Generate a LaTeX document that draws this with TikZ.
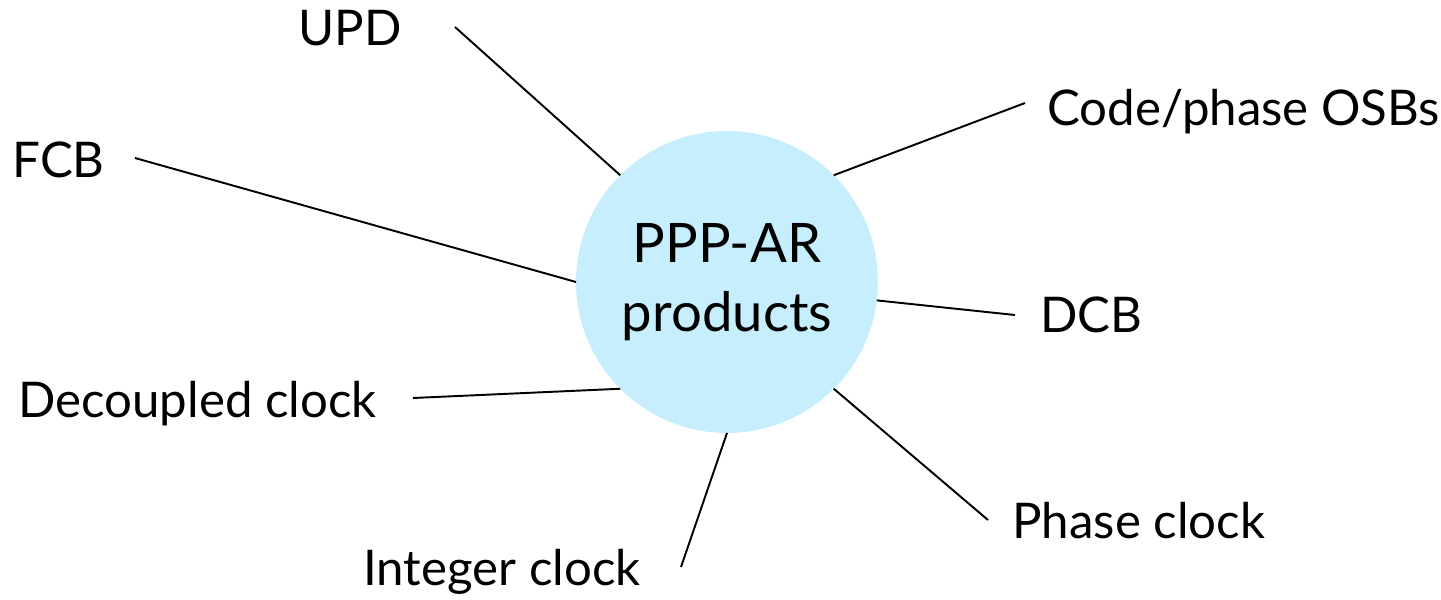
\documentclass[tikz,border=0pt]{standalone}
\usepackage{fontspec}
\setmainfont{Lato}
\usepackage{xcolor}
\usepackage{tikz}
\tikzset{%
  spoke/.style={line width=1.1pt},
  hub/.style={circle,fill=hubblue,minimum size=6.04cm,inner sep=0pt,outer sep=0pt,align=center,font=\fontsize{31}{39.5}\selectfont},
  item/.style={inner sep=0pt,font=\fontsize{28}{32}\selectfont},
}
\definecolor{hubblue}{HTML}{C6EEFC}

\begin{document}
\begin{tikzpicture}[x=0.02cm,y=-0.02cm]
      \useasboundingbox (0,0) rectangle (1441,599);
      \node[hub] (ppp) at (727,282) {PPP-AR\\products};

      \node[item,anchor=base east] (upd) at (402,45) {UPD};
      \node[item,anchor=base east] (fcb) at (105,177) {FCB};
      \node[item,anchor=base west] (osb) at (1047,125) {Code/phase OSBs};
      \node[item,anchor=base west] (dcb) at (1040,332) {DCB};
      \node[item,anchor=base east] (decClock) at (377,417) {Decoupled clock};
      \node[item,anchor=base west] (phaseClock) at (1012,538) {Phase clock};
      \node[item,anchor=base] (intClock) at (502,585) {Integer clock};

      \coordinate (updEnd) at (455,27);
      \coordinate (fcbEnd) at (135,158);
      \coordinate (osbEnd) at (1025,103);
      \coordinate (dcbEnd) at (1015,315);
      \coordinate (decEnd) at (413,398);
      \coordinate (phaseEnd) at (988,520);
      \coordinate (intEnd) at (681,567);

      \draw[spoke] (ppp.135) -- (updEnd);
      \draw[spoke] (ppp.180) -- (fcbEnd);
      \draw[spoke] (ppp.45) -- (osbEnd);
      \draw[spoke] (ppp.-7) -- (dcbEnd);
      \draw[spoke] (ppp.-135) -- (decEnd);
      \draw[spoke] (ppp.-45) -- (phaseEnd);
      \draw[spoke] (ppp.-90) -- (intEnd);
    \end{tikzpicture}
\end{document}
